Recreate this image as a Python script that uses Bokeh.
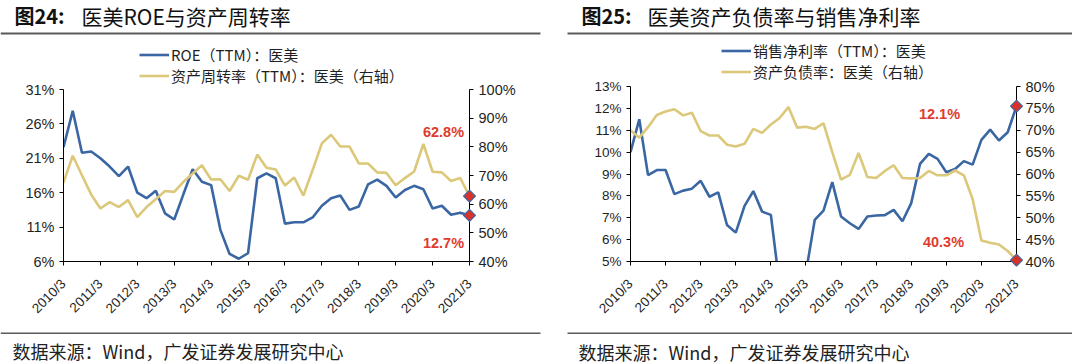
import math
from bokeh.plotting import figure
from bokeh.models import (Range1d, LinearAxis, FixedTicker, PrintfTickFormatter, Label,
                          BoxAnnotation, Legend, LegendItem)
from bokeh.layouts import row, column
from bokeh.embed import file_html
from bokeh.resources import INLINE

# ---------------- data ----------------
year_labels = ["2010/3", "2011/3", "2012/3", "2013/3", "2014/3", "2015/3", "2016/3",
               "2017/3", "2018/3", "2019/3", "2020/3", "2021/3"]

# quarterly, 2010Q1 .. 2021Q1 (45 points)
roe_ttm = [22.6, 27.9, 21.8, 22.0, 21.0, 19.8, 18.4, 19.8, 16.0, 15.2, 16.3, 13.0, 12.1,
           15.8, 19.4, 17.6, 17.1, 10.6, 7.1, 6.4, 7.2, 18.1, 18.8, 18.1, 11.5, 11.7, 11.7,
           12.4, 14.1, 15.2, 15.6, 13.5, 14.0, 17.2, 17.9, 17.0, 15.3, 16.4, 17.0, 16.5,
           13.7, 14.1, 12.8, 13.1, 12.7]
turnover_ttm = [67.5, 76.9, 70.1, 63.4, 58.5, 60.7, 59.0, 61.4, 55.5, 59.0, 61.7, 64.6,
                64.3, 67.8, 70.7, 73.6, 68.6, 68.7, 64.6, 69.9, 68.5, 77.3, 72.7, 72.1,
                66.5, 69.3, 63.0, 71.9, 81.2, 84.2, 80.1, 80.1, 74.2, 74.2, 71.1, 70.9,
                66.6, 69.1, 71.4, 81.0, 71.3, 71.1, 68.1, 69.1, 62.8]
net_margin_ttm = [10.0, 11.5, 8.95, 9.18, 9.18, 8.08, 8.24, 8.33, 8.69, 7.96, 8.16, 6.67,
                  6.32, 7.54, 8.22, 7.28, 7.13, 3.9, 2.6, 3.0, 4.5, 6.9, 7.33, 8.63, 7.06,
                  6.75, 6.49, 7.06, 7.1, 7.12, 7.36, 6.84, 7.67, 9.46, 9.92, 9.69, 9.08,
                  9.23, 9.59, 9.43, 10.56, 11.03, 10.53, 10.91, 12.1]
debt_ratio = [70.0, 68.3, 70.7, 73.5, 74.3, 74.8, 73.4, 74.0, 69.8, 68.8, 68.8, 66.7, 66.3,
              66.9, 70.3, 69.4, 71.3, 72.8, 75.3, 70.6, 70.8, 70.3, 71.6, 65.0, 58.7, 59.8,
              64.8, 59.3, 59.1, 60.7, 62.0, 59.1, 59.0, 59.1, 60.7, 59.7, 59.7, 60.8, 59.7,
              54.3, 44.8, 44.3, 43.9, 42.4, 40.3]

x_idx = list(range(len(roe_ttm)))
year_ticks = [4 * k for k in range(len(year_labels))]

left1_ticks = [6, 11, 16, 21, 26, 31]
right1_ticks = [40, 50, 60, 70, 80, 90, 100]
left2_ticks = [5, 6, 7, 8, 9, 10, 11, 12, 13]
right2_ticks = [40, 45, 50, 55, 60, 65, 70, 75, 80]

titles = [("图24:", "医美ROE与资产周转率"), ("图25:", "医美资产负债率与销售净利率")]
legend1 = ["ROE（TTM）：医美", "资产周转率（TTM）：医美（右轴）"]
legend2 = ["销售净利率（TTM）：医美", "资产负债率：医美（右轴）"]
source_text = "数据来源：Wind，广发证券发展研究中心"

# ---------------- style / layout ----------------
BLUE = "#3A67A3"
YELLOW = "#DCC87A"
RED = "#E03C2D"
MARK = "#D8332A"
DARK = "#1F1F1F"
RULE = "#5A5A5A"
CJK = "Noto Sans CJK SC"
LAT = "Liberation Sans"

TOTAL_W = 1072
HEAD_H = 36          # page y 0..36
MAIN_H = 289         # page y 36..325
FOOT_H = 38          # page y 325..363
W1, W2 = 540, 532
FRAME_BOTTOM = 261   # page y of the x axes (plots in one row share it)
OV_W = 26            # width of the transparent strips holding the end markers


def text_fig(height, y0):
    p = figure(width=TOTAL_W, height=height, output_backend="svg", toolbar_location=None,
               title=None, x_range=Range1d(0, TOTAL_W), y_range=Range1d(y0 + height, y0),
               x_axis_type=None, y_axis_type=None, min_border=0,
               min_border_left=0, min_border_right=0, min_border_top=0, min_border_bottom=0)
    p.outline_line_color = None
    p.xgrid.visible = False
    p.ygrid.visible = False
    return p


def add_label(p, x, y, text, font=CJK, size="14px", style="normal", color=DARK,
              align="left", units="data"):
    p.add_layout(Label(x=x, y=y, x_units=units, y_units=units, text=text,
                       text_font=font, text_font_size=size, text_font_style=style,
                       text_color=color, text_align=align, text_baseline="middle"))


def add_rule(p, left, right, top, bottom):
    p.add_layout(BoxAnnotation(left=left, right=right, top=top, bottom=bottom,
                               fill_color=RULE, fill_alpha=1, line_color=None))


def main_fig(width, fl, fr, axis_top, yr, yr2, lt, rt, lsize, rsize):
    # frame spans page y HEAD_H .. FRAME_BOTTOM; the y axes are bounded to the data range
    ppy = (FRAME_BOTTOM - axis_top) / (yr[1] - yr[0])
    ppy2 = (FRAME_BOTTOM - axis_top) / (yr2[1] - yr2[0])
    y_hi = yr[1] + (axis_top - HEAD_H) / ppy
    y2_hi = yr2[1] + (axis_top - HEAD_H) / ppy2
    p = figure(width=width, height=MAIN_H, output_backend="svg", toolbar_location=None,
               title=None, x_range=Range1d(0, len(x_idx) - 1), y_range=Range1d(yr[0], y_hi),
               min_border_left=fl, min_border_right=width - fr,
               min_border_top=0, min_border_bottom=HEAD_H + MAIN_H - FRAME_BOTTOM)
    p.extra_y_ranges = {"r": Range1d(yr2[0], y2_hi)}
    p.outline_line_color = None
    p.xgrid.visible = False
    p.ygrid.visible = False

    xa = p.xaxis[0]
    xa.ticker = FixedTicker(ticks=year_ticks)
    xa.major_label_overrides = {t: lab for t, lab in zip(year_ticks, year_labels)}
    xa.major_label_orientation = math.pi / 4
    xa.major_label_text_font = LAT
    xa.major_label_text_font_size = "13.5px"
    xa.major_label_text_color = DARK
    xa.major_label_standoff = 16

    ya = p.yaxis[0]
    ya.ticker = FixedTicker(ticks=lt)
    ya.bounds = yr
    ya.formatter = PrintfTickFormatter(format="%d%%")
    ya.major_label_text_font = LAT
    ya.major_label_text_font_size = lsize
    ya.major_label_text_color = DARK
    ya.major_label_standoff = 5

    ra = LinearAxis(y_range_name="r", ticker=FixedTicker(ticks=rt), bounds=yr2,
                    formatter=PrintfTickFormatter(format="%d%%"))
    ra.major_label_text_font = LAT
    ra.major_label_text_font_size = rsize
    ra.major_label_text_color = DARK
    ra.major_label_standoff = 5
    p.add_layout(ra, "right")

    for ax in (xa, ya, ra):
        ax.axis_line_color = "black"
        ax.axis_line_width = 1
        ax.major_tick_line_color = "black"
        ax.major_tick_in = 0
        ax.major_tick_out = 4
        ax.minor_tick_line_color = None
    return p


def marker_overlay(fl, fr, axis_top, yr, yr2, y_left, y_right, margin):
    # transparent strip centred on the right axis, covering the whole row height, with
    # the same scales as the main chart, so the end-point diamonds are drawn whole
    x_last = len(x_idx) - 1
    ppx = (fr - fl) / x_last
    ppy = (FRAME_BOTTOM - axis_top) / (yr[1] - yr[0])
    ppy2 = (FRAME_BOTTOM - axis_top) / (yr2[1] - yr2[0])
    below = HEAD_H + MAIN_H - FRAME_BOTTOM
    above = axis_top - HEAD_H
    half = OV_W / 2 / ppx
    p = figure(width=OV_W, height=MAIN_H, output_backend="svg", toolbar_location=None,
               title=None, x_range=Range1d(x_last - half, x_last + half),
               y_range=Range1d(yr[0] - below / ppy, yr[1] + above / ppy),
               x_axis_type=None, y_axis_type=None, min_border=0, min_border_left=0,
               min_border_right=0, min_border_top=0, min_border_bottom=0,
               background_fill_color=None, border_fill_color=None, margin=margin)
    p.extra_y_ranges = {"r": Range1d(yr2[0] - below / ppy2, yr2[1] + above / ppy2)}
    p.outline_line_color = None
    p.xgrid.visible = False
    p.ygrid.visible = False
    p.scatter([x_idx[-1]], [y_left[-1]], marker="square", angle=math.pi / 4, size=8.5,
              fill_color=MARK, line_color=BLUE, line_width=1.2)
    p.scatter([x_idx[-1]], [y_right[-1]], marker="square", angle=math.pi / 4, size=8.5,
              fill_color=MARK, line_color=BLUE, line_width=1.2, y_range_name="r")
    return p


def add_legend(p, renderers, labels, loc):
    leg = Legend(items=[LegendItem(label=l, renderers=[r]) for l, r in zip(labels, renderers)],
                 location=loc, orientation="vertical", padding=0, spacing=0, margin=0,
                 glyph_width=30, glyph_height=19, label_height=19, label_standoff=2,
                 label_text_font=CJK, label_text_font_size="15px",
                 label_text_color=DARK, border_line_color=None, background_fill_alpha=0)
    p.add_layout(leg, "center")


# ---------------- header ----------------
head = text_fig(HEAD_H, 0)
add_label(head, 14, 15, titles[0][0], size="20px", style="bold", color="#111111")
add_label(head, 81, 15, titles[0][1], size="21px", color="#111111")
add_label(head, 581, 15, titles[1][0], size="20px", style="bold", color="#111111")
add_label(head, 647, 15, titles[1][1], size="21px", color="#111111")
add_rule(head, 0, 540, 32, 34)
add_rule(head, 567, TOTAL_W, 32, 34)

# ---------------- chart 1 ----------------
C1 = dict(fl=63, fr=469, axis_top=89, yr=(6, 31), yr2=(40, 100))
p1 = main_fig(W1, C1["fl"], C1["fr"], C1["axis_top"], C1["yr"], C1["yr2"],
              left1_ticks, right1_ticks, "14.5px", "14.5px")
b1 = p1.line(x_idx, roe_ttm, line_color=BLUE, line_width=2.6)
y1 = p1.line(x_idx, turnover_ttm, line_color=YELLOW, line_width=2.6, y_range_name="r")
add_legend(p1, [b1, y1], legend1, (139 - 63, FRAME_BOTTOM - 85.5))
add_label(p1, 443, 131 - HEAD_H, f"{turnover_ttm[-1]:.1f}%", font=LAT, size="14.5px",
          style="bold", color=RED, align="center", units="canvas")
add_label(p1, 443, 242 - HEAD_H, f"{roe_ttm[-1]:.1f}%", font=LAT, size="14.5px",
          style="bold", color=RED, align="center", units="canvas")

# ---------------- chart 2 ----------------
OX = W1
C2 = dict(fl=630 - OX, fr=1016 - OX, axis_top=86, yr=(5, 13), yr2=(40, 80))
p2 = main_fig(W2, C2["fl"], C2["fr"], C2["axis_top"], C2["yr"], C2["yr2"],
              left2_ticks, right2_ticks, "13.5px", "14.5px")
b2 = p2.line(x_idx, net_margin_ttm, line_color=BLUE, line_width=2.6)
y2 = p2.line(x_idx, debt_ratio, line_color=YELLOW, line_width=2.6, y_range_name="r")
add_legend(p2, [b2, y2], legend2, (721 - 630, FRAME_BOTTOM - 81.5))
add_label(p2, 939 - OX, 113 - HEAD_H, f"{net_margin_ttm[-1]:.1f}%", font=LAT,
          size="14.5px", style="bold", color=RED, align="center", units="canvas")
add_label(p2, 943 - OX, 241 - HEAD_H, f"{debt_ratio[-1]:.1f}%", font=LAT,
          size="14.5px", style="bold", color=RED, align="center", units="canvas")

# ---------------- end-marker overlays (separate row laid over the charts) ----------------
ov1_left = C1["fr"] - OV_W // 2
ov2_left = OX + C2["fr"] - OV_W // 2
ov1 = marker_overlay(C1["fl"], C1["fr"], C1["axis_top"], C1["yr"], C1["yr2"],
                     roe_ttm, turnover_ttm, margin=(0, 0, 0, ov1_left))
ov2 = marker_overlay(C2["fl"], C2["fr"], C2["axis_top"], C2["yr"], C2["yr2"],
                     net_margin_ttm, debt_ratio,
                     margin=(0, 0, 0, ov2_left - (ov1_left + OV_W)))
overlay_row = row(ov1, ov2, margin=(-MAIN_H, 0, 0, 0))

# ---------------- footer ----------------
y_foot = HEAD_H + MAIN_H
foot = text_fig(FOOT_H, y_foot)
add_rule(foot, 0, 540, 332, 333.5)
add_rule(foot, 567, TOTAL_W, 332, 333.5)
add_label(foot, 12, 350, source_text, size="18px", color="#222222")
add_label(foot, 578, 351, source_text, size="18px", color="#222222")

layout = column(head, row(p1, p2), overlay_row, foot)

with open("out.html", "w") as f:
    f.write(file_html(layout, INLINE))
